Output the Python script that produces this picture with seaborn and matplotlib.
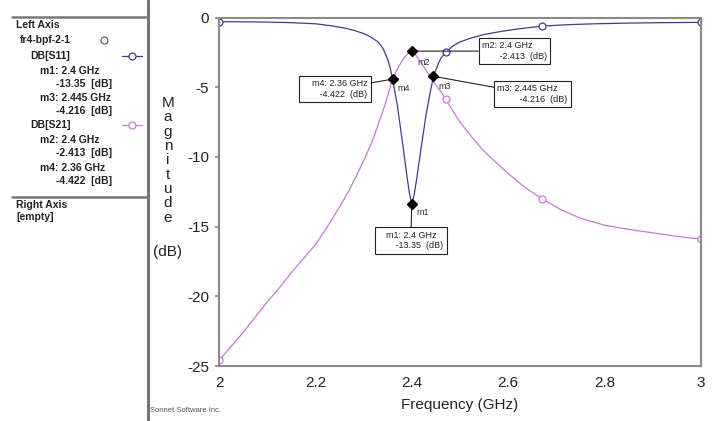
import numpy as np
import pandas as pd
import seaborn as sns
from matplotlib import pyplot as plt

sns.set_theme(style="white")
plt.rcParams['font.family'] = ['Liberation Sans', 'DejaVu Sans']

# S11 trace (dB)
s11_freq = [2.00, 2.05, 2.10, 2.15, 2.20, 2.23, 2.26, 2.28, 2.30, 2.315, 2.33, 2.34,
            2.35, 2.355, 2.36, 2.37, 2.38, 2.39, 2.395, 2.40, 2.405, 2.41, 2.42, 2.43,
            2.438, 2.445, 2.455, 2.46, 2.47, 2.485, 2.50, 2.525, 2.55, 2.585, 2.62, 2.67,
            2.72, 2.78, 2.85, 2.92, 3.00]
s11_db = [-0.30, -0.31, -0.33, -0.37, -0.45, -0.58, -0.75, -0.92, -1.15, -1.40, -1.75, -2.2,
          -3.0, -3.6, -4.422, -6.3, -8.8, -11.4, -12.6, -13.35, -12.7, -11.6, -9.2, -6.9,
          -5.4, -4.216, -3.3, -2.95, -2.5, -2.05, -1.75, -1.45, -1.22, -1.0, -0.82, -0.62,
          -0.52, -0.45, -0.40, -0.37, -0.35]

# S21 trace (dB)
s21_freq = [2.00, 2.025, 2.05, 2.075, 2.10, 2.125, 2.15, 2.175, 2.20, 2.225, 2.25, 2.27,
            2.29, 2.305, 2.32, 2.335, 2.345, 2.355, 2.36, 2.37, 2.38, 2.39, 2.40, 2.407,
            2.415, 2.43, 2.445, 2.46, 2.47, 2.485, 2.50, 2.525, 2.55, 2.575, 2.60, 2.635,
            2.67, 2.71, 2.75, 2.80, 2.85, 2.90, 2.95, 3.00]
s21_db = [-24.6, -23.6, -22.6, -21.5, -20.4, -19.4, -18.3, -17.3, -16.3, -15.0, -13.6, -12.4,
          -11.0, -9.9, -8.7, -7.2, -6.2, -5.0, -4.422, -3.7, -3.1, -2.65, -2.413, -2.6,
          -3.05, -3.8, -4.6, -5.3, -5.87, -6.7, -7.5, -8.6, -9.6, -10.4, -11.2, -12.2,
          -13.0, -13.8, -14.4, -14.9, -15.2, -15.45, -15.7, -15.9]

# open-circle symbols along each trace
sym_freq = [2.00, 2.47, 2.67, 3.00]
s11_sym = [-0.30, -2.5, -0.62, -0.35]
s21_sym = [-24.6, -5.87, -13.0, -15.9]

# markers
mk_names = ["m1", "m2", "m3", "m4"]
mk_freq = [2.4, 2.4, 2.445, 2.36]
mk_db = [-13.35, -2.413, -4.216, -4.422]
mk_text = ["m1: 2.4 GHz\n       -13.35  (dB)",
           "m2: 2.4 GHz\n       -2.413  (dB)",
           "m3: 2.445 GHz\n         -4.216  (dB)",
           "m4: 2.36 GHz\n       -4.422  (dB)"]

blue = "#3c3f8c"
pink = "#c47ad6"

W, H = 715, 421
fig = plt.figure(figsize=(W / 100, H / 100), dpi=100)

# ---- main plot ----
ax = fig.add_axes([219 / W, 1 - 366 / H, 482 / W, (366 - 17.5) / H])
df = pd.concat([
    pd.DataFrame({"freq": s11_freq, "dB": s11_db, "trace": "DB[S11]"}),
    pd.DataFrame({"freq": s21_freq, "dB": s21_db, "trace": "DB[S21]"}),
])
sns.lineplot(data=df, x="freq", y="dB", hue="trace", palette={"DB[S11]": blue, "DB[S21]": pink},
             sort=False, estimator=None, legend=False, linewidth=0.9, ax=ax)
ax.plot(sym_freq, s11_sym, "o", mfc="white", mec=blue, ms=5, mew=0.9)
ax.plot(sym_freq, s21_sym, "o", mfc="white", mec=pink, ms=5, mew=0.9)
ax.plot(mk_freq, mk_db, "D", color="black", ms=5.5, zorder=5)

ax.set_xlim(2, 3)
ax.set_ylim(-25, 0)
ax.set_xticks([2, 2.2, 2.4, 2.6, 2.8, 3])
ax.set_xticklabels(["2", "2.2", "2.4", "2.6", "2.8", "3"])
ax.set_yticks([0, -5, -10, -15, -20, -25])
ax.set_yticklabels(["0", "-5", "-10", "-15", "-20", "-25"])
ax.tick_params(axis="both", labelsize=11, length=3, color="#888888", direction="out",
               left=True, bottom=False, pad=4, labelcolor="#222222")
ax.set_xlabel("Frequency (GHz)", fontsize=11, color="#222222", labelpad=6)
ax.set_ylabel("")
for sp in ax.spines.values():
    sp.set_color("#8a8a8a")
    sp.set_linewidth(1.5)

# marker labels and boxes
lbl_off = [(5, -9), (6, -11), (5, -10), (5, -9)]
box_off = [(-1, -27), (70, 0), (64, -18), (-25, -10)]
box_ha = ["center", "left", "left", "right"]
box_va = ["top", "center", "center", "center"]
for i in range(len(mk_names)):
    ax.annotate(mk_names[i], (mk_freq[i], mk_db[i]), xytext=lbl_off[i], textcoords="offset pixels",
                fontsize=6.5, color="#333333", ha="left", va="center")
    ax.annotate(mk_text[i], (mk_freq[i], mk_db[i]), xytext=box_off[i], textcoords="offset pixels",
                fontsize=6.5, color="#222222", ha=box_ha[i], va=box_va[i], linespacing=1.25,
                bbox=dict(boxstyle="square,pad=0.35", fc="white", ec="#222222", lw=0.8),
                arrowprops=dict(arrowstyle="-", color="#222222", lw=0.8, shrinkA=0, shrinkB=0),
                zorder=4)

# stacked y label
fig.text(168 / W, 1 - 96 / H, "\n".join("Magnitude"), fontsize=11, ha="center", va="top",
         linespacing=1.03, color="#222222")
fig.text(168 / W, 1 - 252 / H, "(dB)", fontsize=11, ha="center", va="center", color="#222222")
fig.text(150 / W, 1 - 410 / H, "Sonnet Software Inc.", fontsize=5.5, color="#555555",
         ha="left", va="center")

# ---- left legend panel ----
lg = fig.add_axes([0, 0, 150 / W, 1])
lg.set_xlim(0, 150)
lg.set_ylim(H, 0)
lg.axis("off")
lg.plot([147.5, 147.5], [0, H], color="#777777", lw=2.2)
lg.plot([12, 147], [17, 17], color="#777777", lw=1.8)
lg.plot([12, 147], [197, 197], color="#777777", lw=1.8)

bold = dict(fontsize=7.5, fontweight="bold", color="#222222", va="center")
lg.text(16, 25, "Left Axis", **bold)
lg.text(20, 40, "fr4-bpf-2-1", **bold)
lg.plot([104], [40], "o", mfc="white", mec="#555555", ms=5, mew=0.8)
lg.text(30, 56, "DB[S11]", **bold)
lg.plot([122, 142], [56, 56], color=blue, lw=0.9)
lg.plot([132], [56], "o", mfc="white", mec=blue, ms=5, mew=0.9)
lg.text(40, 71, "m1: 2.4 GHz", **bold)
lg.text(112, 84, "-13.35  [dB]", ha="right", **bold)
lg.text(40, 98, "m3: 2.445 GHz", **bold)
lg.text(112, 111, "-4.216  [dB]", ha="right", **bold)
lg.text(30, 125, "DB[S21]", **bold)
lg.plot([122, 142], [125, 125], color=pink, lw=0.9)
lg.plot([132], [125], "o", mfc="white", mec=pink, ms=5, mew=0.9)
lg.text(40, 140, "m2: 2.4 GHz", **bold)
lg.text(112, 153, "-2.413  [dB]", ha="right", **bold)
lg.text(40, 168, "m4: 2.36 GHz", **bold)
lg.text(112, 181, "-4.422  [dB]", ha="right", **bold)
lg.text(16, 205, "Right Axis", **bold)
lg.text(16, 217, "[empty]", **bold)

fig.savefig("out.png", dpi=100)
